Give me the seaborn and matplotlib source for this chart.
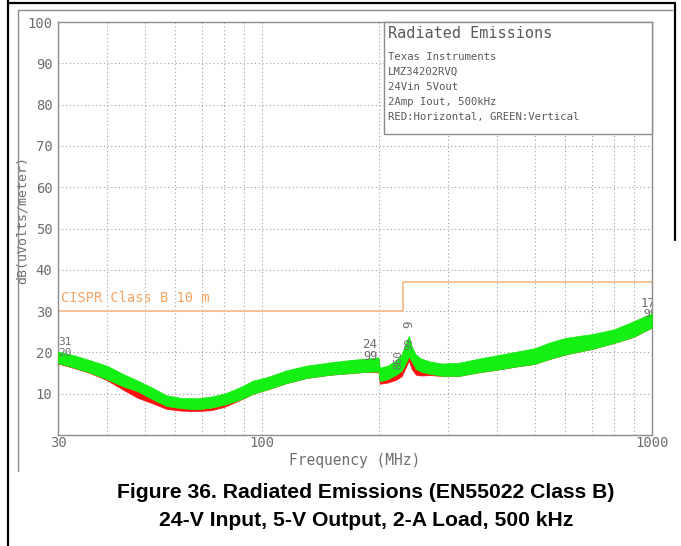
import matplotlib
matplotlib.use("Agg")
import matplotlib.pyplot as plt
import pandas as pd
import seaborn as sns
from matplotlib.lines import Line2D
from matplotlib.patches import Rectangle
from matplotlib.ticker import FixedLocator, FixedFormatter, NullLocator

# ---- measured emission envelopes (dBuV/m) -------------------------------
freq_mhz = [30, 33, 36, 40, 44, 48, 52, 57, 62, 68, 74, 80, 88, 95, 103,
            115, 130, 150, 170, 185, 199, 200.5, 210, 220, 228, 234, 238,
            242, 248, 256, 270, 290, 320, 360, 400, 450, 500, 550, 600,
            650, 700, 800, 900, 950, 1000]

vert_low = [17.4, 16.3, 15.2, 13.5, 11.8, 10.6, 8.8, 7.0, 6.5, 6.2, 6.6,
            7.3, 8.6, 10.0, 11.0, 12.5, 13.8, 14.6, 15.0, 15.3, 15.4, 13.0,
            13.5, 14.5, 15.5, 17.5, 19.0, 17.8, 16.0, 15.3, 14.8, 14.3,
            14.3, 15.2, 15.8, 16.6, 17.2, 18.5, 19.5, 20.2, 20.8, 22.3,
            23.8, 25.0, 26.0]
vert_high = [20.2, 19.3, 18.2, 16.8, 14.8, 13.2, 11.6, 9.6, 9.0, 8.9, 9.3,
             10.0, 11.6, 13.2, 14.0, 15.6, 16.8, 17.6, 18.2, 18.5, 18.8,
             16.3, 16.8, 18.0, 19.5, 22.5, 24.0, 21.5, 19.5, 18.5, 17.8,
             17.3, 17.5, 18.5, 19.3, 20.2, 21.0, 22.5, 23.5, 24.0, 24.4,
             25.6, 27.6, 28.6, 29.5]

horiz_low = [17.3, 16.2, 15.1, 13.3, 11.0, 9.0, 7.8, 6.3, 5.9, 5.8, 6.0,
             6.8, 8.5, 10.0, 11.0, 12.5, 13.8, 14.6, 15.0, 15.3, 15.2, 12.4,
             12.7, 13.3, 14.2, 16.5, 18.0, 16.0, 14.6, 14.4, 14.5, 14.3,
             14.3, 15.2, 15.8, 16.6, 17.2, 18.5, 19.5, 20.2, 20.8, 22.3,
             23.8, 25.0, 26.0]
horiz_high = [20.0, 19.0, 18.0, 16.6, 14.6, 12.0, 10.8, 9.0, 8.6, 8.5, 8.8,
              9.5, 11.3, 12.9, 13.8, 15.4, 16.6, 17.4, 18.0, 18.3, 18.5,
              15.0, 15.3, 16.2, 17.5, 19.8, 20.6, 18.5, 16.8, 16.8, 17.2,
              17.1, 17.3, 18.3, 19.1, 20.0, 20.8, 22.3, 23.3, 23.8, 24.2,
              25.4, 27.4, 28.4, 29.3]

# ---- CISPR 22 class B limit at 10 m -------------------------------------
limit_freq = [30, 230, 230, 1000]
limit_db = [30, 30, 37, 37]

y_ticks = [10, 20, 30, 40, 50, 60, 70, 80, 90, 100]
x_major = [30, 100, 1000]
x_major_labels = ["30", "100", "1000"]
x_grid = [40, 50, 60, 70, 80, 90, 100, 200, 300, 400, 500, 600, 700, 800, 900]

info_title = "Radiated Emissions"
info_lines = ["Texas Instruments", "LMZ34202RVQ", "24Vin 5Vout",
              "2Amp Iout, 500kHz", "RED:Horizontal, GREEN:Vertical"]

caption_lines = ["Figure 36. Radiated Emissions (EN55022 Class B)",
                 "24-V Input, 5-V Output, 2-A Load, 500 kHz"]

# ---- styling ------------------------------------------------------------
sns.set_theme(style="white")
plt.rcParams["font.family"] = ["DejaVu Sans Mono", "DejaVu Sans"]

W, H = 681, 546
fig = plt.figure(figsize=(W / 100, H / 100), dpi=100)
fig.patch.set_facecolor("white")

ax = fig.add_axes([58 / W, 1 - 435 / H, (652 - 58) / W, (435 - 22) / H])
ax.set_xscale("log")
ax.set_xlim(30, 1000)
ax.set_ylim(0, 100)

TEXT_GRAY = "#6e6e6e"
SPINE_GRAY = "#8c8c8c"
GRID_GRAY = "#a0a0a0"

# long-form table: two rows (low/high) per frequency and polarisation;
# the min-max interval drawn by lineplot is the measured envelope
rows = []
for pol, lo, hi in (("Horizontal", horiz_low, horiz_high),
                    ("Vertical", vert_low, vert_high)):
    for f, a, b in zip(freq_mhz, lo, hi):
        rows.append({"freq": f, "level": a, "pol": pol})
        rows.append({"freq": f, "level": b, "pol": pol})
traces = pd.DataFrame(rows)

sns.lineplot(data=traces, x="freq", y="level", hue="pol",
             hue_order=["Horizontal", "Vertical"],
             palette={"Horizontal": "#ff1010", "Vertical": "#14f014"},
             estimator="mean", errorbar=("pi", 100),
             err_kws={"alpha": 1.0, "linewidth": 0.5, "zorder": 3},
             linewidth=0, legend=False, ax=ax)

limit = pd.DataFrame({"freq": limit_freq, "level": limit_db})
sns.lineplot(data=limit, x="freq", y="level", estimator=None, sort=False,
             color="#f8bd8c", linewidth=1.3, ax=ax, zorder=2)
ax.text(30.6, 31.5, "CISPR Class B 10 m", color="#f2a565", fontsize=9.8,
        ha="left", va="bottom")

# ---- grid / ticks -------------------------------------------------------
ax.xaxis.set_major_locator(FixedLocator(x_major))
ax.xaxis.set_major_formatter(FixedFormatter(x_major_labels))
ax.xaxis.set_minor_locator(NullLocator())
ax.yaxis.set_major_locator(FixedLocator(y_ticks))
ax.tick_params(axis="y", length=0, labelsize=10, colors=TEXT_GRAY, pad=4)
ax.tick_params(axis="x", length=0, labelsize=10, colors=TEXT_GRAY, pad=1)
for f in x_grid:
    ax.axvline(f, color=GRID_GRAY, linestyle=(0, (1.0, 2.4)), linewidth=0.8,
               zorder=1)
for v in y_ticks[:-1]:
    ax.axhline(v, color=GRID_GRAY, linestyle=(0, (1.0, 2.4)), linewidth=0.8,
               zorder=1)
for s in ax.spines.values():
    s.set_color(SPINE_GRAY)
    s.set_linewidth(1.0)

ax.set_xlabel("Frequency (MHz)", fontsize=10.5, color=TEXT_GRAY, labelpad=2)
ax.set_ylabel("dB(uVolts/meter)", fontsize=9.5, color=TEXT_GRAY)
ax.yaxis.set_label_coords(-0.05, 0.52)

# ---- marker numbers ------------------------------------------------------
def marker(x, y, s, size=9, rot=0, ha="center"):
    ax.text(x, y, s, color=TEXT_GRAY, fontsize=size, rotation=rot, ha=ha,
            va="center", clip_on=True, zorder=4)

marker(30.0, 22.6, "31", size=8, ha="left")
marker(30.0, 19.8, "20", size=8, ha="left")
marker(189, 22.0, "24")
marker(190, 18.9, "99", size=8.5)
marker(238.5, 26.8, "9", rot=90)
marker(238.5, 22.0, "99", size=7.5, rot=90)
marker(224, 18.3, "860", size=7.5, rot=90)
marker(936, 31.9, "170", ha="left")
marker(950, 29.2, "99", size=8, ha="left")

# ---- information box ----------------------------------------------------
bx0, bx1, by0, by1 = 384, 652, 22, 134
fig.add_artist(Rectangle((bx0 / W, 1 - by1 / H), (bx1 - bx0) / W,
                         (by1 - by0) / H, transform=fig.transFigure,
                         facecolor="white", edgecolor=SPINE_GRAY,
                         linewidth=1.0, zorder=5))
fig.text(388 / W, 1 - 34 / H, info_title, fontsize=11, color="#5a5a5a",
         ha="left", va="center", zorder=6)
for i, line in enumerate(info_lines):
    fig.text(388 / W, 1 - (56.5 + 15.2 * i) / H, line, fontsize=7.7,
             color="#5a5a5a", ha="left", va="center", zorder=6)

# ---- page frame ---------------------------------------------------------
def frame_line(xs, ys, color, lw):
    fig.add_artist(Line2D([x / W for x in xs], [1 - y / H for y in ys],
                          transform=fig.transFigure, color=color,
                          linewidth=lw))

frame_line([7.5, 7.5], [0, 546], "black", 1.6)
frame_line([7.5, 674.5], [3, 3], "black", 1.6)
frame_line([674.5, 674.5], [3, 240], "black", 1.6)
frame_line([17.5, 17.5], [10, 471], SPINE_GRAY, 1.0)
frame_line([17.5, 672], [10, 10], SPINE_GRAY, 1.0)

# ---- caption ------------------------------------------------------------
for i, line in enumerate(caption_lines):
    fig.text(366 / W, 1 - (493 + 28 * i) / H, line,
             family="Liberation Sans", fontweight="bold", fontsize=15.2,
             color="black", ha="center", va="center")

fig.savefig("out.png", dpi=100)
